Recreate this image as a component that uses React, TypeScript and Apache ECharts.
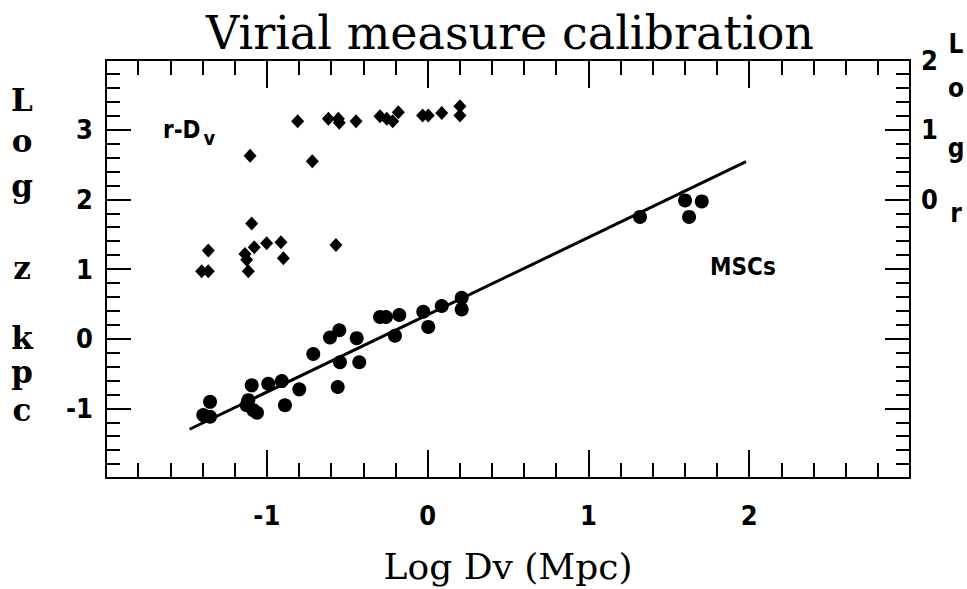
import React, { useEffect, useRef } from "react";
import * as echarts from "echarts";

// MSC points (Log Dv, Log z)
const mscX = [-1.395, -1.353, -1.353, -1.094, -1.115, -1.084, -1.125, -1.061, -0.991, -0.907, -0.887, -0.798, -0.711, -0.607, -0.549, -0.545, -0.559, -0.441, -0.425, -0.296, -0.259, -0.176, -0.203, -0.027, 0.004, 0.088, 0.212, 0.212, 1.321, 1.601, 1.705, 1.626];
const mscY = [-1.097, -0.907, -1.12, -0.67, -0.883, -1.026, -0.955, -1.064, -0.647, -0.609, -0.955, -0.727, -0.22, 0.017, 0.121, -0.339, -0.694, 0.007, -0.339, 0.311, 0.311, 0.34, 0.041, 0.387, 0.169, 0.468, 0.586, 0.42, 1.748, 1.985, 1.97, 1.748];

// r-Dv points (diamonds)
const rdX = [-0.808, -0.617, -0.555, -0.549, -0.445, -0.296, -0.254, -0.217, -0.182, -0.031, 0.004, 0.088, 0.201, 0.201, -1.104, -0.717, -1.094, -1.364, -1.405, -1.364, -1.136, -1.125, -1.115, -1.078, -1.001, -0.912, -0.897, -0.57];
const rdY = [3.122, 3.156, 3.156, 3.1, 3.122, 3.194, 3.156, 3.122, 3.25, 3.203, 3.203, 3.241, 3.336, 3.203, 2.625, 2.545, 1.653, 1.265, 0.966, 0.966, 1.216, 1.131, 0.966, 1.311, 1.368, 1.383, 1.155, 1.344];

// fitted line endpoints
const fitX = [-1.48, 1.98];
const fitY = [-1.3, 2.54];

const xLabels = [-1, 0, 1, 2];
const yLabels = [-1, 0, 1, 2, 3];
const rightLabels = [0, 1, 2];

const SANS = "'DejaVu Sans Condensed', 'Liberation Sans Narrow', 'DejaVu Sans', sans-serif";
const SERIF = "'DejaVu Serif', 'Liberation Serif', serif";

export default function App() {
  const ref = useRef<HTMLDivElement>(null);
  useEffect(() => {
    if (!ref.current) return;
    const chart = echarts.init(ref.current, null, { renderer: "svg" });
    const tickStyle = { color: "#000", width: 2 };
    const labelStyle = { color: "#000", fontFamily: SANS, fontWeight: "bold" as const, fontSize: 27 };
    const leftLetters = [
      ["L", 100], ["o", 141], ["g", 186], ["z", 268], ["k", 338], ["p", 372], ["c", 410],
    ] as [string, number][];
    const rightLetters = [
      ["L", 44], ["o", 88], ["g", 148], ["r", 213],
    ] as [string, number][];
    const option: any = {
      animation: false,
      backgroundColor: "#fff",
      grid: { left: 106, right: 57, top: 60, bottom: 107, show: true, borderColor: "#000", borderWidth: 2 },
      title: {
        text: "Virial measure calibration",
        left: 505,
        textAlign: "center",
        top: 5,
        textStyle: { fontFamily: SERIF, fontWeight: "normal", fontSize: 46, color: "#000" },
      },
      xAxis: [
        {
          type: "value", min: -2, max: 3, interval: 1, position: "bottom",
          axisLine: { show: true, onZero: false, lineStyle: tickStyle },
          axisTick: { show: true, inside: true, length: 28, lineStyle: tickStyle },
          minorTick: { show: true, splitNumber: 5, length: 15, lineStyle: tickStyle },
          splitLine: { show: false },
          axisLabel: {
            ...labelStyle, margin: 24,
            formatter: (v: number) => (xLabels.includes(v) ? String(v) : ""),
          },
          name: "Log Dv (Mpc)", nameLocation: "middle", nameGap: 70,
          nameTextStyle: { fontFamily: SERIF, fontSize: 36, color: "#000" },
        },
        {
          type: "value", min: -2, max: 3, interval: 1, position: "top",
          axisLine: { show: true, onZero: false, lineStyle: tickStyle },
          axisTick: { show: true, inside: true, length: 28, lineStyle: tickStyle },
          minorTick: { show: true, splitNumber: 5, length: 15, lineStyle: tickStyle },
          splitLine: { show: false },
          axisLabel: { show: false },
        },
      ],
      yAxis: [
        {
          type: "value", min: -2, max: 4, interval: 1, position: "left",
          axisLine: { show: true, onZero: false, lineStyle: tickStyle },
          axisTick: { show: true, inside: true, length: 25, lineStyle: tickStyle },
          minorTick: { show: true, splitNumber: 5, length: 14, lineStyle: tickStyle },
          splitLine: { show: false },
          axisLabel: {
            ...labelStyle, margin: 13,
            formatter: (v: number) => (yLabels.includes(v) ? String(v) : ""),
          },
        },
        {
          type: "value", min: -4, max: 2, interval: 1, position: "right",
          axisLine: { show: true, onZero: false, lineStyle: tickStyle },
          axisTick: { show: true, inside: true, length: 25, lineStyle: tickStyle },
          minorTick: { show: true, splitNumber: 5, length: 14, lineStyle: tickStyle },
          splitLine: { show: false },
          axisLabel: {
            ...labelStyle, margin: 11,
            formatter: (v: number) => (rightLabels.includes(v) ? String(v) : ""),
          },
        },
      ],
      series: [
        {
          type: "line", xAxisIndex: 0, yAxisIndex: 0,
          data: fitX.map((x, i) => [x, fitY[i]]),
          showSymbol: false, symbol: "none",
          lineStyle: { color: "#000", width: 3 },
          z: 3,
        },
        {
          type: "scatter", xAxisIndex: 0, yAxisIndex: 0,
          data: mscX.map((x, i) => [x, mscY[i]]),
          symbol: "circle", symbolSize: 14,
          itemStyle: { color: "#000", opacity: 1 },
          z: 4,
        },
        {
          type: "scatter", xAxisIndex: 0, yAxisIndex: 0,
          data: rdX.map((x, i) => [x, rdY[i]]),
          symbol: "diamond", symbolSize: [13, 14],
          itemStyle: { color: "#000", opacity: 1 },
          z: 4,
        },
      ],
      graphic: [
        ...leftLetters.map(([t, y]) => ({
          type: "text", x: 22, y, style: {
            text: t, fill: "#000", font: `bold 31px ${SERIF}`, textAlign: "center", textVerticalAlign: "middle",
          },
        })),
        ...rightLetters.map(([t, y]) => ({
          type: "text", x: 956, y, style: {
            text: t, fill: "#000", font: `bold 26px ${SANS}`, textAlign: "center", textVerticalAlign: "middle",
          },
        })),
        {
          type: "text", x: 163, y: 112, style: {
            text: "{a|r-D}{b|v}", fill: "#000",
            rich: {
              a: { fontFamily: SANS, fontWeight: "bold", fontSize: 24, fill: "#000" } as any,
              b: { fontFamily: SANS, fontWeight: "bold", fontSize: 20, fill: "#000", padding: [16, 0, 0, 3] } as any,
            },
          },
        },
        {
          type: "text", x: 710, y: 255, style: {
            text: "MSCs", fill: "#000", font: `bold 24px ${SANS}`,
          },
        },
      ],
    };
    chart.setOption(option);
    return () => chart.dispose();
  }, []);
  return (
    <div
      ref={ref}
      style={{ position: "absolute", left: 0, top: 0, width: 967, height: 589, overflow: "hidden" }}
    />
  );
}
